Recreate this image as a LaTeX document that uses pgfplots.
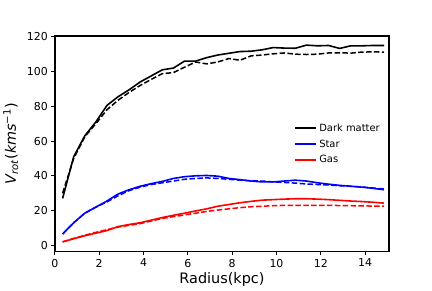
\documentclass[border=0pt]{standalone}
\usepackage{fontspec}
\setmainfont{DejaVu Sans}
\usepackage{pgfplots}
\pgfplotsset{compat=1.18}
\begin{document}
\begin{tikzpicture}
\begin{axis}[
  at={(0,0)}, anchor=south west,
  scale only axis, width=335bp, height=216bp,
  xmin=0, xmax=15.08, ymin=-3.5, ymax=120.5,
  xtick={0,2,...,14}, ytick={0,20,...,120},
  axis line style={line width=1.8bp},
  tick style={line width=0.8bp, black},
  tick align=outside, major tick length=3.5bp,
  xtick pos=bottom, ytick pos=left,
  /pgf/number format/assume math mode=true,
  tick label style={font=\fontsize{11}{13}\selectfont},
  xticklabel style={yshift=-0.5bp},
  xlabel={Radius(kpc)},
  ylabel={\itshape V\textsubscript{rot}\upshape(\itshape kms\textsuperscript{\upshape −1}\upshape)},
  label style={font=\fontsize{14.5}{17}\selectfont},
  xlabel style={yshift=1bp},
  ylabel style={yshift=2bp},
  legend style={draw=none, fill=none, at={(0.707,0.612)}, anchor=north west,
    font=\fontsize{10}{12}\selectfont, row sep=3bp},
  legend cell align=left,
  legend image code/.code={\draw[#1, line width=2bp] (0bp,0bp) -- (21bp,0bp);},
]
\addplot[draw=black, line width=1.6bp] coordinates {
(0.35,27) (0.85,51) (1.35,63) (1.85,71) (2.35,80.5) (2.85,85.5) (3.35,89.5) (3.85,94) (4.35,97.5) (4.85,101)
(5.35,102) (5.85,106) (6.35,106) (6.85,108) (7.35,109.5) (7.85,110.5) (8.35,111.5) (8.85,111.7) (9.35,112.5) (9.85,113.8)
(10.35,113.5) (10.85,113.4) (11.35,115.2) (11.85,114.8) (12.35,115) (12.85,113.3) (13.35,114.8) (13.85,114.8) (14.35,115) (14.85,115)};
\addlegendentry{Dark matter}
\addplot[draw=blue, line width=1.6bp] coordinates {
(0.35,6.5) (0.85,13) (1.35,18.5) (1.85,22) (2.35,25.5) (2.85,29.5) (3.35,32) (3.85,34) (4.35,35.5) (4.85,36.8)
(5.35,38.5) (5.85,39.5) (6.35,40) (6.85,40.2) (7.35,39.8) (7.85,38.5) (8.35,37.8) (8.85,37) (9.35,36.5) (9.85,36.5)
(10.35,37) (10.85,37.5) (11.35,37) (11.85,36) (12.35,35.2) (12.85,34.5) (13.35,34) (13.85,33.5) (14.35,32.8) (14.85,32)};
\addlegendentry{Star}
\addplot[draw=red, line width=1.6bp] coordinates {
(0.35,2) (0.85,3.8) (1.35,5.5) (1.85,7) (2.35,8.5) (2.85,10.8) (3.35,12) (3.85,13) (4.35,14.5) (4.85,16)
(5.35,17.3) (5.85,18.5) (6.35,19.8) (6.85,21) (7.35,22.5) (7.85,23.5) (8.35,24.5) (8.85,25.3) (9.35,26) (9.85,26.3)
(10.35,26.6) (10.85,26.8) (11.35,26.8) (11.85,26.6) (12.35,26.3) (12.85,25.9) (13.35,25.5) (13.85,25.2) (14.35,24.8) (14.85,24.3)};
\addlegendentry{Gas}
\addplot[black, line width=1.5bp, dash pattern=on 5.5bp off 2.4bp, forget plot] coordinates {
(0.35,30) (0.85,50) (1.35,62.5) (1.85,70) (2.35,78) (2.85,83.5) (3.35,88) (3.85,92) (4.35,95.5) (4.85,98.8)
(5.35,99.4) (5.85,102.5) (6.35,105.5) (6.85,104.4) (7.35,105.5) (7.85,107.5) (8.35,106.5) (8.85,109) (9.35,109.5) (9.85,110.2)
(10.35,110.7) (10.85,110) (11.35,109.8) (11.85,110) (12.35,110.7) (12.85,110.8) (13.35,110.6) (13.85,111.2) (14.35,111.3) (14.85,111.2)};
\addplot[blue, line width=1.5bp, dash pattern=on 5.5bp off 2.4bp, forget plot] coordinates {
(0.35,6.5) (0.85,13) (1.35,18.5) (1.85,22) (2.35,25) (2.85,28.5) (3.35,31.5) (3.85,33.5) (4.35,35) (4.85,36)
(5.35,37) (5.85,38) (6.35,38.5) (6.85,38.8) (7.35,38.5) (7.85,38) (8.35,37.5) (8.85,37.2) (9.35,37) (9.85,36.5)
(10.35,36.2) (10.85,35.8) (11.35,35.3) (11.85,35) (12.35,34.7) (12.85,34.3) (13.35,34) (13.85,33.6) (14.35,33) (14.85,32.4)};
\addplot[red, line width=1.5bp, dash pattern=on 5.5bp off 2.4bp, forget plot] coordinates {
(0.35,2) (0.85,4) (1.35,5.8) (1.85,7.5) (2.35,9) (2.85,10.5) (3.35,11.5) (3.85,12.5) (4.35,14) (4.85,15.5)
(5.35,16.5) (5.85,17.5) (6.35,18.5) (6.85,19.5) (7.35,20.3) (7.85,21) (8.35,21.7) (8.85,22.2) (9.35,22.5) (9.85,22.8)
(10.35,23) (10.85,23) (11.35,23) (11.85,23) (12.35,23) (12.85,22.9) (13.35,22.8) (13.85,22.7) (14.35,22.6) (14.85,22.5)};
\end{axis}
\path[use as bounding box] (-54bp,-36bp) rectangle (378bp,252bp);
\end{tikzpicture}
\end{document}
